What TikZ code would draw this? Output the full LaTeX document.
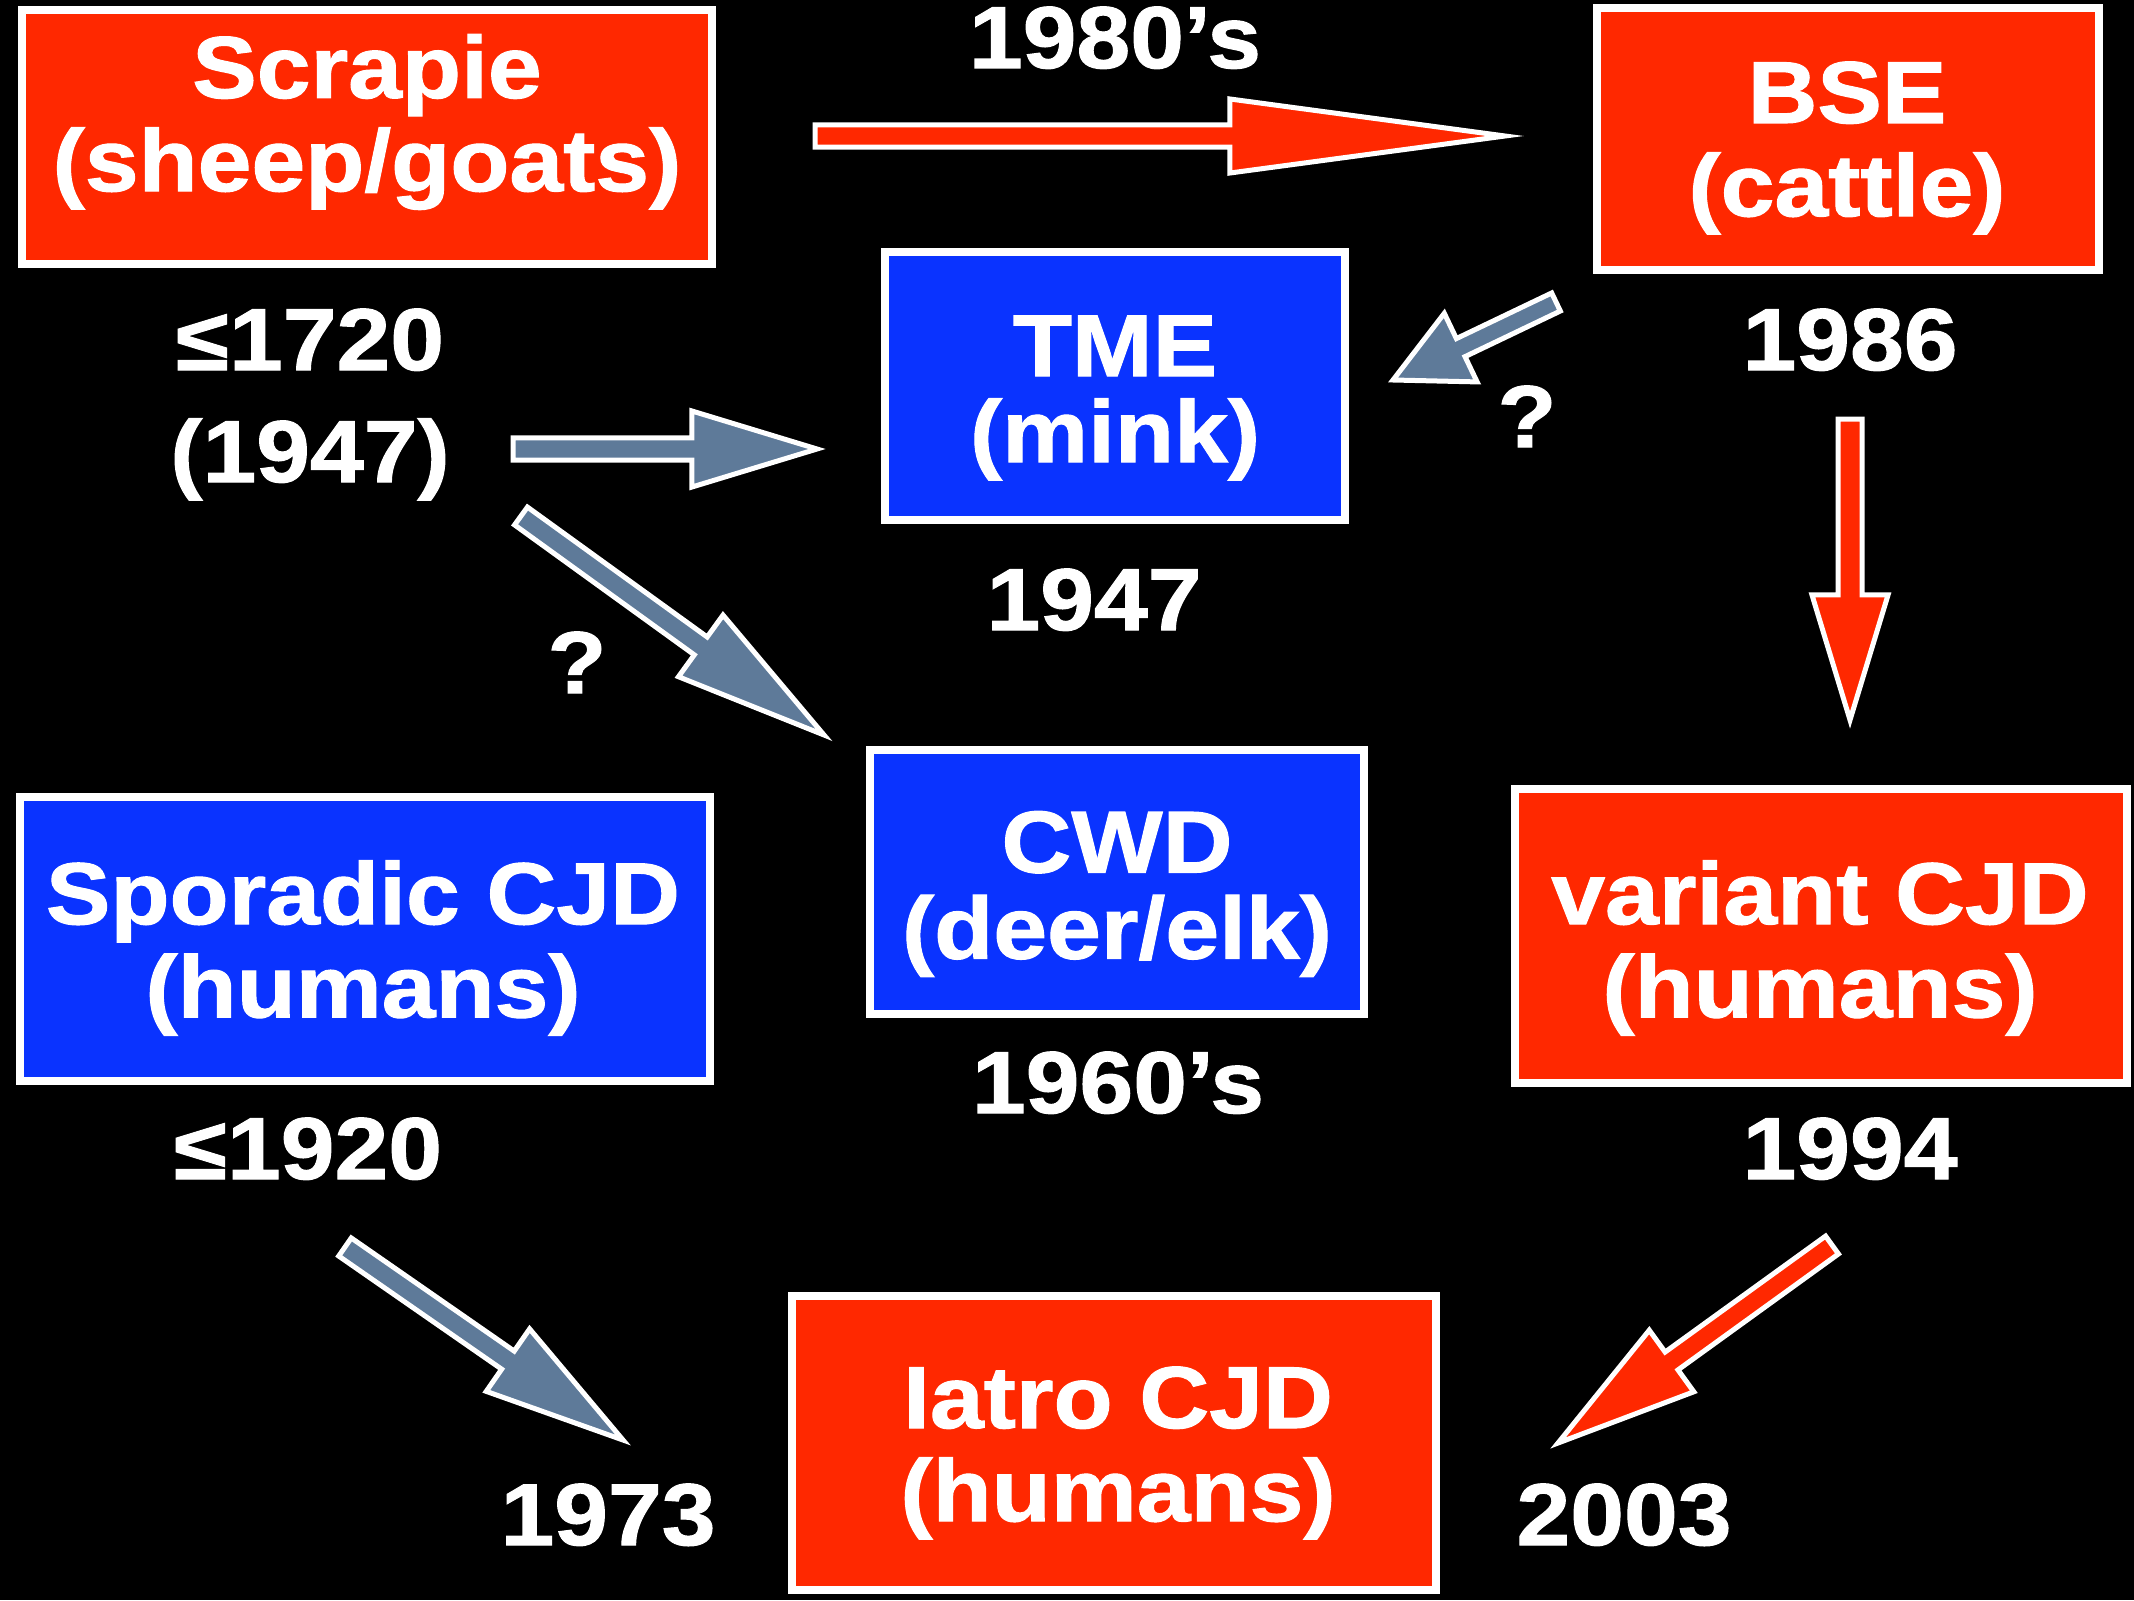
\documentclass[tikz,border=0pt]{standalone}
\usepackage{fontspec}
\setmainfont{Liberation Sans}[FakeStretch=1.1, BoldFeatures={FakeBold=1.2}]
\usetikzlibrary{calc}
\definecolor{prionred}{HTML}{FF2800}
\definecolor{prionblue}{HTML}{0A33FF}
\definecolor{prongray}{HTML}{5E7A99}
\tikzset{
  box/.style={draw=white, line width=0.08cm, inner sep=0pt},
  redbox/.style={box, fill=prionred},
  bluebox/.style={box, fill=prionblue},
  txt/.style={text=white, inner sep=0pt, align=center,
    font=\fontsize{25pt}{26.5pt}\selectfont\bfseries},
  yr/.style={txt, anchor=base},
  redarrow/.style={draw=white, line width=0.05cm, fill=prionred},
  grayarrow/.style={draw=white, line width=0.05cm, fill=prongray},
}
% block arrow: [style]{tail}{tip}{head length}{half shaft}{half head}
\newcommand\blockarrow[6][]{%
  \coordinate (#2h) at ($(#3)!#4!(#2)$);
  \draw[#1] ($(#2)!#5!90:(#3)$) -- ($(#2h)!#5!90:(#3)$) -- ($(#2h)!#6!90:(#3)$)
    -- (#3) -- ($(#2h)!#6!-90:(#3)$) -- ($(#2h)!#5!-90:(#3)$)
    -- ($(#2)!#5!-90:(#3)$) -- cycle;}
\begin{document}
\begin{tikzpicture}[x=0.01cm, y=-0.01cm]
  \fill[black] (0,0) rectangle (2134,1600);
  \useasboundingbox (0,0) rectangle (2134,1600);
  % boxes
  \node[redbox, minimum width=6.89cm, minimum height=2.53cm] (scrapie) at (367,137) {};
  \node[redbox, minimum width=5.01cm, minimum height=2.62cm] (bse) at (1848,139) {};
  \node[bluebox, minimum width=4.59cm, minimum height=2.67cm] (tme) at (1115,386) {};
  \node[bluebox, minimum width=4.94cm, minimum height=2.63cm] (cwd) at (1117,882) {};
  \node[bluebox, minimum width=6.90cm, minimum height=2.84cm] (scjd) at (365,939) {};
  \node[redbox, minimum width=6.12cm, minimum height=2.94cm] (vcjd) at (1821,936) {};
  \node[redbox, minimum width=6.44cm, minimum height=2.94cm] (icjd) at (1114,1443) {};
  \node[txt] (scrapie-t) at (367,122) {Scrapie\\(sheep/goats)};
  \node[txt] (bse-t) at (1847,148) {BSE\\(cattle)};
  \node[txt, font=\fontsize{25pt}{24.5pt}\selectfont\bfseries] (tme-t) at (1115,398) {TME\\(mink)};
  \node[txt, font=\fontsize{25pt}{24.5pt}\selectfont\bfseries] (cwd-t) at (1117,894) {CWD\\(deer/elk)};
  \node[txt] (scjd-t) at (363,948) {Sporadic CJD\\(humans)};
  \node[txt] (vcjd-t) at (1820,948) {variant CJD\\(humans)};
  \node[txt] (icjd-t) at (1118,1453) {Iatro CJD\\(humans)};
  % dates
  \node[yr] (d1980) at (1115,68) {1980’s};
  \node[yr] (d1720) at (310,370) {≤1720};
  \node[yr] (d1947a) at (310,482) {(1947)};
  \node[yr] (d1986) at (1850,370) {1986};
  \node[yr] (q1) at (1527,447) {?};
  \node[yr] (d1947) at (1094,630) {1947};
  \node[yr] (q2) at (577,693) {?};
  \node[yr] (d1960) at (1118,1113) {1960’s};
  \node[yr] (d1920) at (308,1179) {≤1920};
  \node[yr] (d1994) at (1850,1179) {1994};
  \node[yr] (d1973) at (608,1545) {1973};
  \node[yr] (d2003) at (1624,1545) {2003};
  % arrows
  \coordinate (A1) at (815,136);   \coordinate (B1) at (1505,136);
  \coordinate (A2) at (513,449);   \coordinate (B2) at (817,449);
  \coordinate (A3) at (521,516);   \coordinate (B3) at (824,735);
  \coordinate (A4) at (1556,302);  \coordinate (B4) at (1393,380);
  \coordinate (A5) at (1850,419);  \coordinate (B5) at (1850,720);
  \coordinate (A6) at (345,1247);  \coordinate (B6) at (623,1440);
  \coordinate (A7) at (1832,1245); \coordinate (B7) at (1558,1443);
  \blockarrow[redarrow]{A1}{B1}{2.75cm}{.11cm}{.37cm}
  \blockarrow[grayarrow]{A2}{B2}{1.25cm}{.11cm}{.38cm}
  \blockarrow[grayarrow]{A3}{B3}{1.52cm}{.11cm}{.38cm}
  \blockarrow[grayarrow]{A4}{B4}{0.75cm}{.10cm}{.38cm}
  \blockarrow[redarrow]{A5}{B5}{1.25cm}{.12cm}{.38cm}
  \blockarrow[grayarrow]{A6}{B6}{1.40cm}{.11cm}{.38cm}
  \blockarrow[redarrow]{A7}{B7}{1.40cm}{.11cm}{.38cm}
\end{tikzpicture}
\end{document}
